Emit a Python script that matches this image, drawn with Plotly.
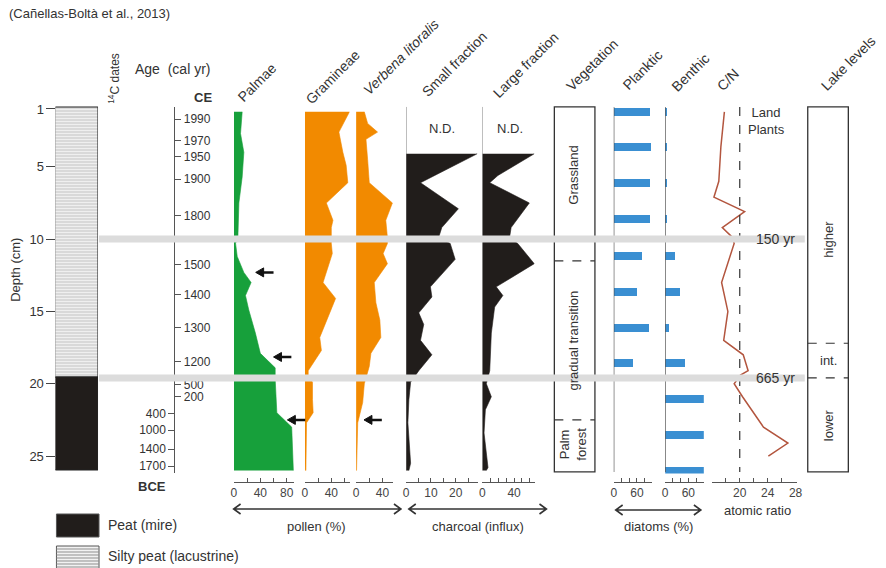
import plotly.graph_objects as go

W, H = 886, 568
def px(x): return x / W
def py(y): return 1 - y / H

FONT = "Liberation Sans, Arial, sans-serif"
TXT = "#333333"

# ---------------- data ----------------
litho_names = ["Silty peat (lacustrine)", "Peat (mire)"]
litho_top = [0.9, 19.55]
litho_bottom = [19.55, 26.0]

c14_depth = [4.2, 9.1, 11.0, 13.0, 17.1, 18.1, 19.1, 21.1, 23.1, 25.1]

ce_labels = ["1990", "1970", "1950", "1900", "1800", "", "1500", "1400", "1300", "1200", "500", "200"]
ce_depth = [1.71, 3.21, 4.30, 5.86, 8.38, 9.8, 11.74, 13.86, 16.1, 18.47, 20.04, 20.9]
bce_labels = ["400", "1000", "1400", "1700"]
bce_depth = [22.05, 23.2, 24.53, 25.69]

palmae_depth = [1.2, 2.7, 4.0, 5.7, 7.5, 9.9, 10.3, 11.2, 12.3, 13.0, 13.9, 14.9, 16.5, 17.9, 18.9, 19.7, 22.0, 23.0, 26.0]
palmae = [12.5, 10, 15, 12.5, 7.5, 6, 2.5, 5, 15, 26, 17.5, 22.5, 32.5, 40, 62.5, 62.5, 65, 87.5, 90]

gram_depth = [1.2, 2.6, 4.0, 4.9, 6.1, 7.5, 8.7, 9.2, 9.9, 10.3, 11.0, 13.0, 14.1, 16.8, 17.7, 19.1, 19.4, 19.9, 21.1, 22.0, 22.7, 26.0]
gramineae = [67.5, 51.5, 57.5, 62.5, 65, 32.5, 42.5, 40, 40, 40, 41.5, 27.5, 46.5, 22.5, 25, 5, 5, 11.5, 11.5, 12.5, 2.5, 1.5]

verb_depth = [1.2, 2.0, 2.6, 3.1, 4.5, 6.1, 7.5, 8.7, 9.9, 10.3, 11.0, 11.7, 13.0, 14.4, 15.6, 16.8, 17.9, 18.8, 20.0, 21.3, 22.7, 26.0]
verbena = [12.5, 17.5, 32.5, 15, 17.5, 20, 55, 45, 47.5, 47.5, 41, 47.5, 27.5, 30, 36, 37.5, 22.5, 20, 12.5, 10, 2.5, 0.7]

small_depth = [4.1, 5.7, 6.1, 7.9, 9.2, 9.9, 10.3, 11.4, 13.3, 14.0, 15.1, 15.9, 17.0, 18.0, 19.1, 19.9, 21.1, 22.7, 25.5, 26.0]
small_frac = [28.7, 10.4, 5.8, 21.1, 14.4, 13.1, 17.8, 19.8, 9.8, 10.4, 5.1, 7.1, 5.8, 10.4, 5.1, 1.8, 1.1, 0.7, 1.8, 1.1]

large_depth = [4.1, 5.6, 6.1, 7.5, 9.2, 9.9, 10.3, 11.7, 13.3, 13.9, 14.7, 16.5, 19.1, 20.0, 20.9, 21.8, 23.4, 25.8, 26.0]
large_frac = [65.5, 19.6, 9.3, 59.3, 36.3, 34.3, 44.6, 65.5, 17.5, 25.9, 15.5, 11.3, 9.3, 5, 11.3, 3.8, 2.1, 7.1, 5]

diatom_depth = [1.2, 3.6, 6.1, 8.6, 11.1, 13.6, 16.1, 18.5, 21.0, 23.5, 26.0]
planktic = [92, 97, 92, 92, 72, 59, 90, 49, 0, 0, 0]
benthic = [5, 3, 5, 5, 26, 38, 10, 51, 100, 100, 100]

cn_depth = [1.2, 3.6, 6.0, 7.1, 8.1, 9.2, 9.9, 10.3, 13.0, 15.0, 17.0, 18.0, 19.1, 19.4, 20.0, 20.9, 23.0, 24.1, 25.0]
cn_ratio = [17.8, 17.3, 17.0, 16.3, 20.7, 17.5, 19.0, 19.2, 17.4, 18.3, 17.7, 20.5, 21.2, 20.1, 19.2, 20.4, 23.4, 26.9, 24.1]
cn_land_plants = 20

veg_zones = ["Grassland", "gradual transition", "Palm<br>forest"]
veg_bounds = [0.86, 11.5, 22.5, 26.1]
lake_zones = ["higher", "int.", "lower"]
lake_bounds = [0.86, 17.2, 19.6, 26.1]

horizon_depth = [10.0, 19.6]
horizon_labels = ["150 yr", "665 yr"]

palm_arrow_depth = [12.3, 18.15, 22.5]
palm_arrow_x = [33, 60, 81]
verb_arrow_depth = [22.5]
verb_arrow_x = [12]

# ---------------- colours ----------------
GREEN = "#17a03b"
ORANGE = "#f28a00"
BLACK = "#211d1b"
BLUE = "#3a8fd2"
BROWN = "#b3563f"

Y_RANGE = [26.2, 0]
Y_DOMAIN = [py(473.4), py(94.5)]
DEPTH_PX = (Y_DOMAIN[1] - Y_DOMAIN[0]) * H / (Y_RANGE[0] - Y_RANGE[1])  # px per cm

# panel geometry (left pixel, px per unit)
PALM_X0, VERB_X0, POLLEN_PPU = 233.3, 356.7, 0.667

fig = go.Figure()

# lithology column
for name, top, bot in zip(litho_names, litho_top, litho_bottom):
    if name.startswith("Silty"):
        marker = dict(color="#f3f3f3",
                      pattern=dict(shape="-", fgcolor="#8f8f8f", bgcolor="#f4f4f4", size=3, solidity=0.4),
                      line=dict(color="#222", width=1))
    else:
        marker = dict(color=BLACK, line=dict(color="#222", width=1))
    fig.add_trace(go.Bar(x=[0], y=[bot - top], base=[top], width=1, name=name,
                         marker=marker, xaxis="x", yaxis="y", hoverinfo="skip"))

# 14C dates
fig.add_trace(go.Scatter(x=[0] * len(c14_depth), y=c14_depth, mode="markers",
                         marker=dict(size=10, color="#e3201b"), xaxis="x2", yaxis="y"))
# dummy traces for age axes
fig.add_trace(go.Scatter(x=[0], y=[13], mode="markers", marker=dict(opacity=0),
                         xaxis="x2", yaxis="y2", hoverinfo="skip"))
fig.add_trace(go.Scatter(x=[0], y=[13], mode="markers", marker=dict(opacity=0),
                         xaxis="x2", yaxis="y3", hoverinfo="skip"))

# area curves
def area(xv, yv, color, ax):
    fig.add_trace(go.Scatter(x=xv, y=yv, mode="lines", fill="tozerox", fillcolor=color,
                             line=dict(color=color, width=0.6), xaxis=ax, yaxis="y",
                             hoverinfo="skip"))

area(palmae, palmae_depth, GREEN, "x3")
area(gramineae, gram_depth, ORANGE, "x4")
area(verbena, verb_depth, ORANGE, "x5")
area(small_frac, small_depth, BLACK, "x6")
area(large_frac, large_depth, BLACK, "x7")

# diatoms
fig.add_trace(go.Bar(x=planktic, y=diatom_depth, orientation="h", width=0.55,
                     marker=dict(color=BLUE, line=dict(width=0)), xaxis="x8", yaxis="y"))
fig.add_trace(go.Bar(x=benthic, y=diatom_depth, orientation="h", width=0.55,
                     marker=dict(color=BLUE, line=dict(width=0)), xaxis="x9", yaxis="y"))

# C/N
fig.add_trace(go.Scatter(x=cn_ratio, y=cn_depth, mode="lines",
                         line=dict(color=BROWN, width=1.5), xaxis="x10", yaxis="y"))

# ---------------- axes ----------------
def hidden_x(d0, d1, rng):
    return dict(domain=[px(d0), px(d1)], range=rng, visible=False, anchor="y", fixedrange=True)

def scale_x(d0, d1, rng, tv, tt):
    return dict(domain=[px(d0), px(d1)], range=rng, anchor="free", position=py(482),
                side="bottom", showline=True, linecolor="#555", linewidth=1,
                ticks="inside", ticklen=4, tickwidth=1, tickcolor="#555",
                tickmode="array", tickvals=tv, ticktext=tt,
                tickfont=dict(size=12, color="#444", family=FONT),
                showgrid=False, zeroline=False, fixedrange=True)

layout_axes = dict(
    xaxis=hidden_x(53, 96, [-0.5, 0.5]),
    xaxis2=hidden_x(104, 118, [-1, 1]),
    xaxis3=scale_x(PALM_X0, PALM_X0 + 91 * POLLEN_PPU, [0, 91], [0, 20, 40, 60, 80], ["0", "", "40", "", "80"]),
    xaxis4=scale_x(305, 305 + 68 * POLLEN_PPU, [0, 68], [0, 20, 40, 60], ["0", "", "40", ""]),
    xaxis5=scale_x(VERB_X0, VERB_X0 + 56 * POLLEN_PPU, [0, 56], [0, 20, 40], ["0", "", "40"]),
    xaxis6=scale_x(407.3, 479.8, [0, 29], [0, 5, 10, 15, 20, 25], ["0", "", "10", "", "20", ""]),
    xaxis7=scale_x(484.3, 537.1, [0, 66], [0, 10, 20, 30, 40, 50, 60], ["0", "", "", "", "40", "", ""]),
    xaxis8=scale_x(617, 656, [0, 100], [0, 20, 40, 60, 80], ["0", "", "", "60", ""]),
    xaxis9=scale_x(669, 708, [0, 100], [0, 20, 40, 60, 80, 100], ["0", "", "", "60", "", ""]),
    xaxis10=scale_x(716.1, 801.7, [16, 28.14], [18, 20, 22, 24, 26, 28], ["", "20", "", "24", "", "28"]),
    yaxis=dict(domain=Y_DOMAIN, range=Y_RANGE, anchor="free", position=px(53), side="left",
               tickmode="array", tickvals=[1, 5, 10, 15, 20, 25], ticks="outside", ticklen=9,
               tickcolor="#444", tickfont=dict(size=13, color=TXT, family=FONT),
               showline=False, showgrid=False, zeroline=False, fixedrange=True),
    yaxis2=dict(domain=[py(473.4), py(107)], range=[26.2, 0.862], anchor="free", position=px(173),
                side="right", tickmode="array", tickvals=ce_depth, ticktext=ce_labels,
                ticks="outside", ticklen=6, tickcolor="#555", showline=True, linecolor="#555",
                linewidth=1.2, tickfont=dict(size=12, color=TXT, family=FONT),
                showgrid=False, zeroline=False, fixedrange=True),
    yaxis3=dict(domain=[py(473.4), py(107)], range=[26.2, 0.862], anchor="free", position=px(173),
                side="left", tickmode="array", tickvals=bce_depth, ticktext=bce_labels,
                ticks="outside", ticklen=6, tickcolor="#555", showline=False,
                tickfont=dict(size=12, color=TXT, family=FONT),
                showgrid=False, zeroline=False, fixedrange=True),
)

# ---------------- shapes ----------------
shapes = []
for ax in ["x6", "x7"]:
    shapes.append(dict(type="line", xref=ax, yref="y", x0=0, x1=0, y0=0.86, y1=26.0,
                       line=dict(color="#888", width=1), layer="below"))
for ax in ["x8", "x9"]:
    shapes.append(dict(type="line", xref=ax, yref="y", x0=0, x1=0, y0=0.86, y1=26.1,
                       line=dict(color="#444", width=1.2), layer="above"))
shapes.append(dict(type="line", xref="x10", yref="y", x0=cn_land_plants, x1=cn_land_plants,
                   y0=0.86, y1=26.1, line=dict(color="#333", width=1.2, dash="dash")))

def zone_box(x0, x1, bounds):
    shapes.append(dict(type="rect", xref="paper", yref="y", x0=px(x0), x1=px(x1),
                       y0=bounds[0], y1=bounds[-1], line=dict(color="#333", width=1.3)))
    for b in bounds[1:-1]:
        shapes.append(dict(type="line", xref="paper", yref="y", x0=px(x0), x1=px(x1),
                           y0=b, y1=b, line=dict(color="#333", width=1.2, dash="dash")))

zone_box(557, 598, veg_bounds)
zone_box(813, 854, lake_bounds)

for d in horizon_depth:
    shapes.append(dict(type="line", xref="paper", yref="y", x0=px(97), x1=px(810), y0=d, y1=d,
                       line=dict(color="#dcdcdc", width=7), layer="above"))

# legend swatches
shapes.append(dict(type="rect", xref="paper", yref="paper", x0=px(54), x1=px(97),
                   y0=py(537), y1=py(514), fillcolor=BLACK, line=dict(color="#555", width=1)))
shapes.append(dict(type="rect", xref="paper", yref="paper", x0=px(54), x1=px(97),
                   y0=py(570), y1=py(546), fillcolor="#f2f2f2", line=dict(color="#555", width=1)))
for i in range(8):
    yy = py(549 + 3 * i)
    shapes.append(dict(type="line", xref="paper", yref="paper", x0=px(54), x1=px(97),
                       y0=yy, y1=yy, line=dict(color="#8f8f8f", width=1)))

# double-headed group arrows (paper coords)
def dbl_arrow(x0, x1, y):
    path = (f"M{px(x0)},{py(y)} L{px(x1)},{py(y)} "
            f"M{px(x0 + 7)},{py(y - 5)} L{px(x0)},{py(y)} L{px(x0 + 7)},{py(y + 5)} "
            f"M{px(x1 - 7)},{py(y - 5)} L{px(x1)},{py(y)} L{px(x1 - 7)},{py(y + 5)}")
    shapes.append(dict(type="path", xref="paper", yref="paper", path=path,
                       line=dict(color="#333", width=1.6)))
dbl_arrow(233, 402, 509)
dbl_arrow(410, 549, 509)
dbl_arrow(619, 705, 510)

# black event arrows pointing left (tip given in panel % units, drawn in page px)
def event_arrow(x0_px, xv, d):
    tip = x0_px + xv * POLLEN_PPU
    half = 4.5 / DEPTH_PX
    shapes.append(dict(type="path", xref="paper", yref="y",
                       path=f"M{px(tip)},{d} L{px(tip + 8)},{d - half} L{px(tip + 8)},{d + half} Z",
                       fillcolor="#111", line=dict(color="#111", width=1), layer="above"))
    shapes.append(dict(type="line", xref="paper", yref="y", x0=px(tip + 6), x1=px(tip + 18),
                       y0=d, y1=d, line=dict(color="#111", width=2.5), layer="above"))
for d, xv in zip(palm_arrow_depth, palm_arrow_x):
    event_arrow(PALM_X0, xv, d)
for d, xv in zip(verb_arrow_depth, verb_arrow_x):
    event_arrow(VERB_X0, xv, d)

# ---------------- annotations ----------------
anns = []
def ann(text, x, y, size=13, angle=0, xanchor="center", yanchor="middle", color=TXT, yref="paper", yval=None):
    anns.append(dict(text=text, x=px(x), y=(py(y) if yval is None else yval), xref="paper",
                     yref=yref, showarrow=False, textangle=angle, xanchor=xanchor,
                     yanchor=yanchor, font=dict(size=size, color=color, family=FONT)))

ann("(Cañellas-Boltà et al., 2013)", 4, 14, size=13, xanchor="left")
ann("Age\u00a0\u00a0(cal yr)", 131, 69, size=14, xanchor="left")
ann("<b>CE</b>", 202, 97, size=13)
ann("<b>BCE</b>", 151, 486, size=13)
ann("<sup>14</sup>C dates", 112, 78, size=12, angle=-90)
ann("Depth (cm)", 13, 270, size=13, angle=-90)

headers = [("Palmae", 257, 82), ("Gramineae", 333, 77), ("<i>Verbena litoralis</i>", 402, 57),
           ("Small fraction", 456, 64), ("Large fraction", 528, 65), ("Vegetation", 595, 65),
           ("Planktic", 646, 70), ("Benthic", 695, 72), ("C/N", 732, 80), ("Lake levels", 854, 63)]
for t, cx, cy in headers:
    ann(t, cx, cy, size=14, angle=-45)

ann("N.D.", 443, 128, size=13)
ann("N.D.", 512, 128, size=13)
ann("Land<br>Plants", 751, 121, size=13, xanchor="left")

for lab, d in zip(horizon_labels, horizon_depth):
    ann(lab, 780, 0, size=14, yref="y", yval=d)

veg_label_depth = [5.6, 17.0, 24.2]
for z, d in zip(veg_zones, veg_label_depth):
    ann(z, 576, 0, size=13, angle=-90, yref="y", yval=d)
lake_label_depth = [10.0, 18.4, 22.9]
for z, d in zip(lake_zones, lake_label_depth):
    ann(z, 834, 0, size=13, angle=(0 if z == "int." else -90), yref="y", yval=d)

ann("pollen (%)", 317, 526, size=13)
ann("charcoal (influx)", 480, 526, size=13)
ann("diatoms (%)", 662, 526, size=13)
ann("atomic ratio", 762, 510, size=13)

ann("Peat (mire)", 104, 525, size=14, xanchor="left")
ann("Silty peat (lacustrine)", 104, 556, size=14, xanchor="left")

fig.update_layout(
    width=W, height=H, margin=dict(l=0, r=0, t=0, b=0),
    paper_bgcolor="white", plot_bgcolor="white",
    showlegend=False, barmode="overlay", bargap=0,
    font=dict(family=FONT, color=TXT),
    shapes=shapes, annotations=anns,
    **layout_axes,
)

fig.write_html("out.html", config={"displayModeBar": False},
               post_script="document.body.style.margin='0';document.body.style.overflow='hidden';")
